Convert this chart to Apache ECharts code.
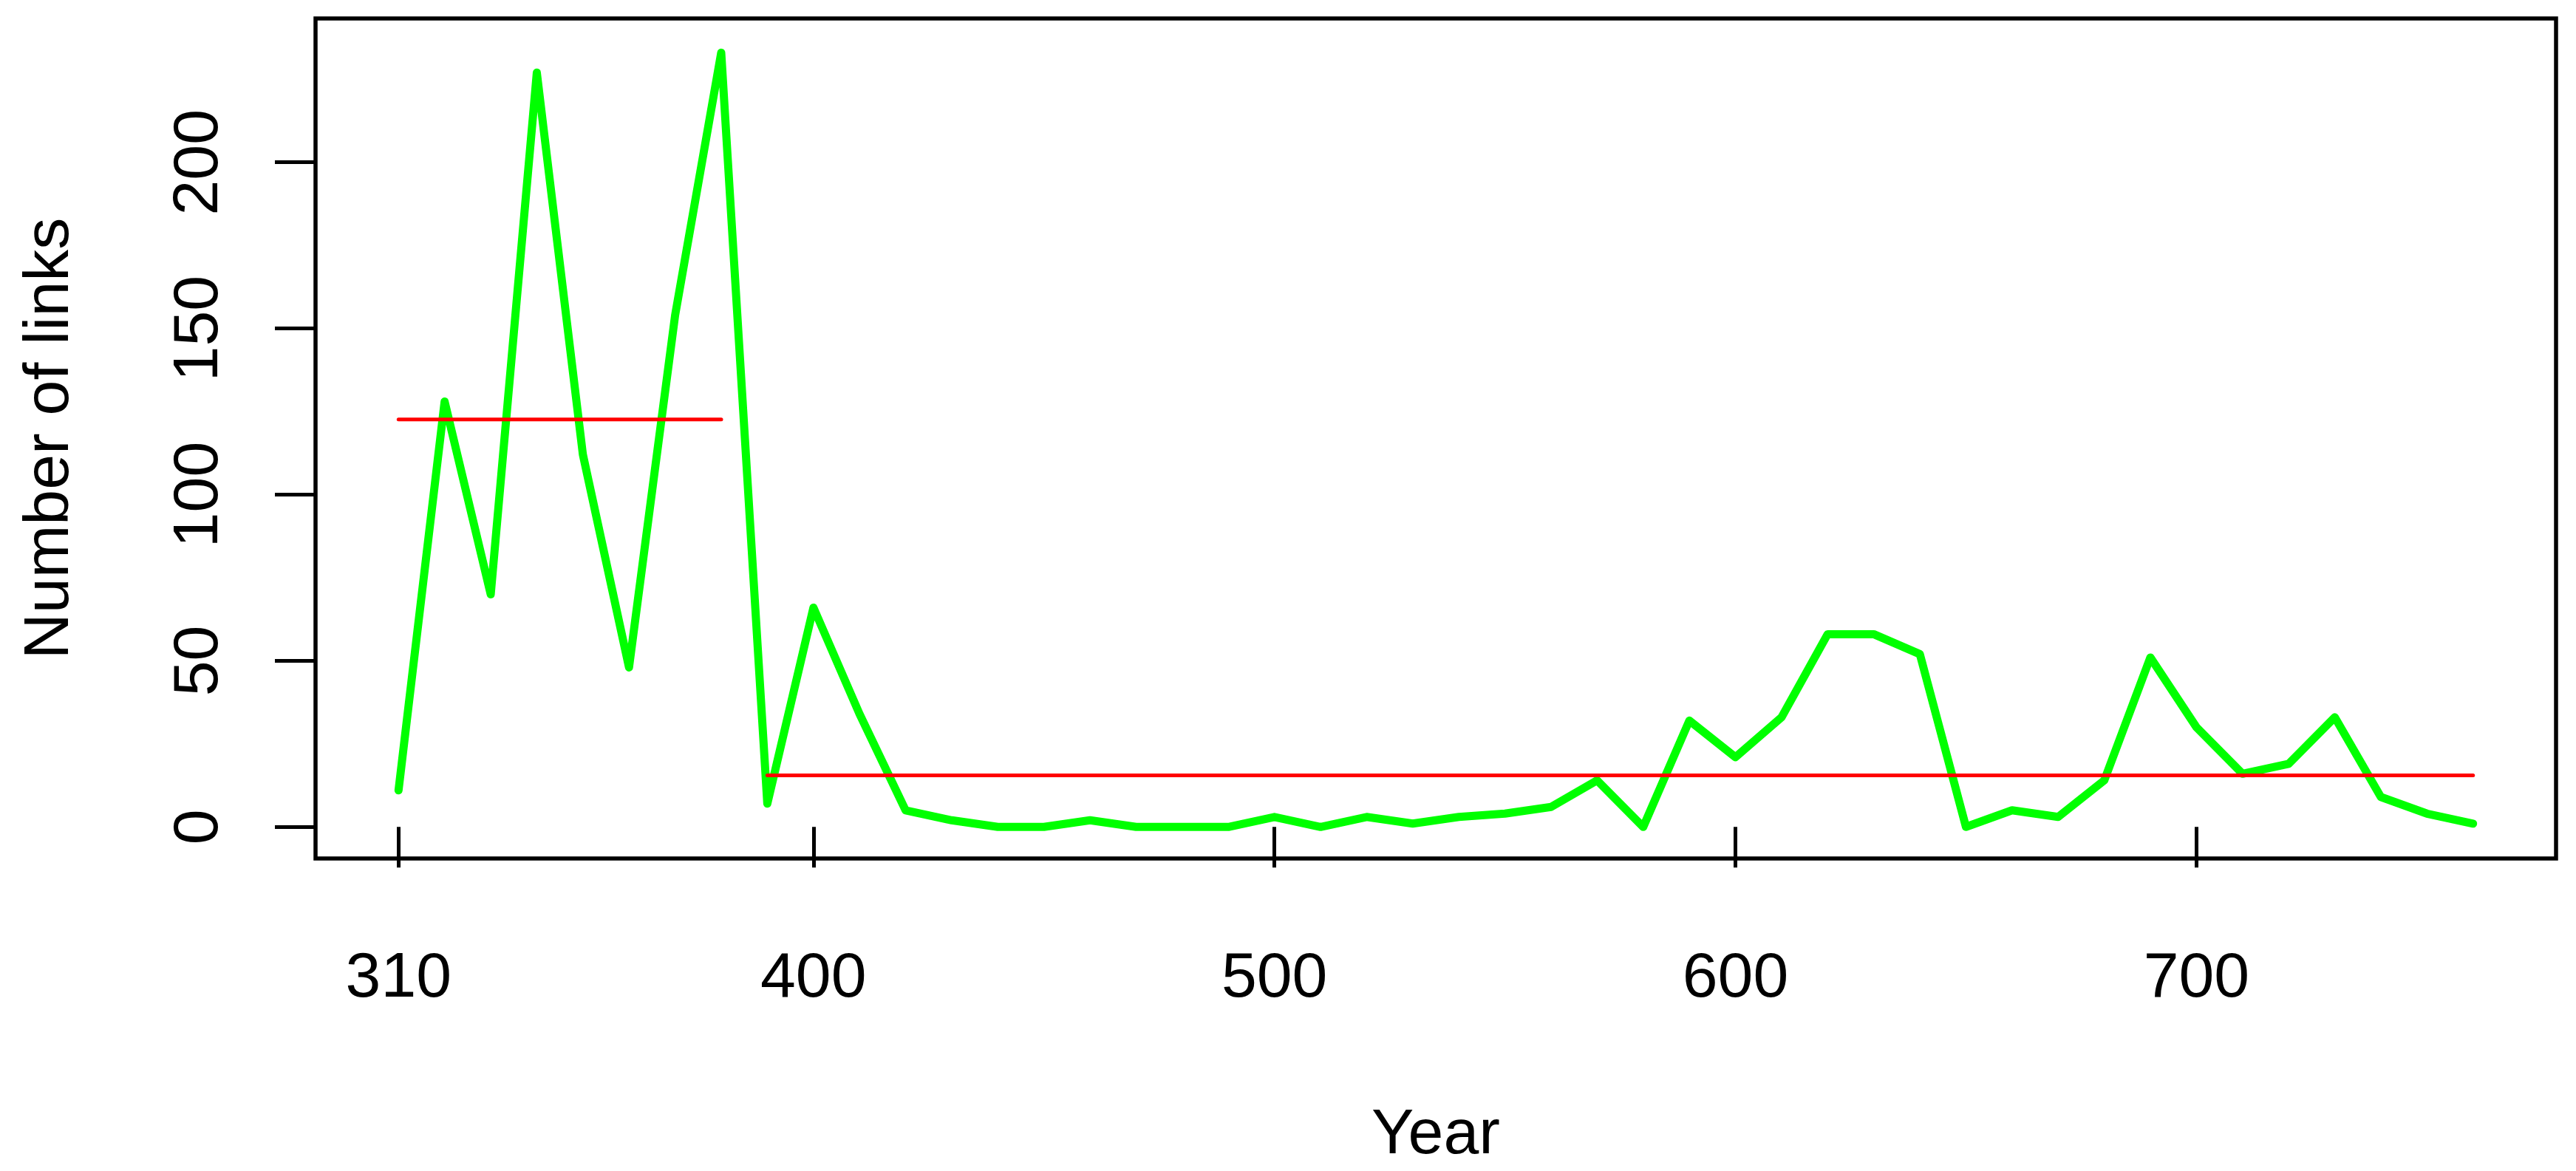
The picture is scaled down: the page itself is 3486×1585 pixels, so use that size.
<!DOCTYPE html>
<html>
<head>
<meta charset="utf-8">
<script src="https://cdn.jsdelivr.net/npm/echarts@6/dist/echarts.min.js"></script>
<style>
html,body{margin:0;padding:0;background:#fff;}
#c{width:3486px;height:1585px;}
</style>
</head>
<body>
<div id="c"></div>
<script>
// Data
const years = [310,320,330,340,350,360,370,380,390,400,410,420,430,440,450,460,470,480,490,500,
               510,520,530,540,550,560,570,580,590,600,610,620,630,640,650,660,670,680,690,700,
               710,720,730,740,750,760];
const links = [11,128,70,227,112,48,154,233,7,66,34,5,2,0,0,2,0,0,0,3,
               0,3,1,3,4,6,14,0,32,21,33,58,58,52,0,5,3,14,51,30,
               16,19,33,9,4,1];
// Horizontal mean segments (red)
const meanYears1 = [310, 380];
const meanValue1 = [122.6, 122.6];
const meanYears2 = [390, 760];
const meanValue2 = [15.5, 15.5];
// Tick labels
const xTicks = [310, 400, 500, 600, 700];
const yTicks = [0, 50, 100, 150, 200];

const chart = echarts.init(document.getElementById('c'), null, {renderer: 'canvas'});
const FONT = 'Liberation Sans, Arial, Helvetica, sans-serif';
const FS = 86;

const lineData = years.map((y, i) => [y, links[i]]);
const m1 = meanYears1.map((y, i) => [y, meanValue1[i]]);
const m2 = meanYears2.map((y, i) => [y, meanValue2[i]]);

chart.setOption({
  backgroundColor: '#ffffff',
  animation: false,
  grid: {
    left: 427, right: 27, top: 25, bottom: 422,
    show: true, borderColor: '#000', borderWidth: 5.5, backgroundColor: 'transparent'
  },
  xAxis: {
    type: 'value', min: 292, max: 778,
    axisLine: {show: false},
    splitLine: {show: false},
    axisTick: {show: true, length: 55, inside: false, customValues: xTicks,
               lineStyle: {color: '#000', width: 5}},
    axisLabel: {show: true, customValues: xTicks, margin: 120,
                color: '#000', fontSize: FS, fontFamily: FONT},
    name: 'Year', nameLocation: 'middle', nameGap: 332,
    nameTextStyle: {color: '#000', fontSize: FS, fontFamily: FONT}
  },
  yAxis: {
    type: 'value', min: -9.5, max: 243.3,
    axisLine: {show: false},
    splitLine: {show: false},
    axisTick: {show: true, length: 55, inside: false, customValues: yTicks,
               lineStyle: {color: '#000', width: 5}},
    axisLabel: {show: true, customValues: yTicks, rotate: 90, margin: 114,
                color: '#000', fontSize: FS, fontFamily: FONT},
    name: 'Number of links', nameLocation: 'middle', nameGap: 316, nameRotate: 90,
    nameTextStyle: {color: '#000', fontSize: FS, fontFamily: FONT}
  },
  series: [
    {
      type: 'line', data: lineData, symbol: 'none', silent: true,
      lineStyle: {color: '#00ff00', width: 11, cap: 'round', join: 'round'},
      z: 2
    },
    {
      type: 'line', data: m1, symbol: 'none', silent: true,
      lineStyle: {color: '#ff0000', width: 5, cap: 'round'},
      z: 3
    },
    {
      type: 'line', data: m2, symbol: 'none', silent: true,
      lineStyle: {color: '#ff0000', width: 5, cap: 'round'},
      z: 3
    }
  ]
});
</script>
</body>
</html>
